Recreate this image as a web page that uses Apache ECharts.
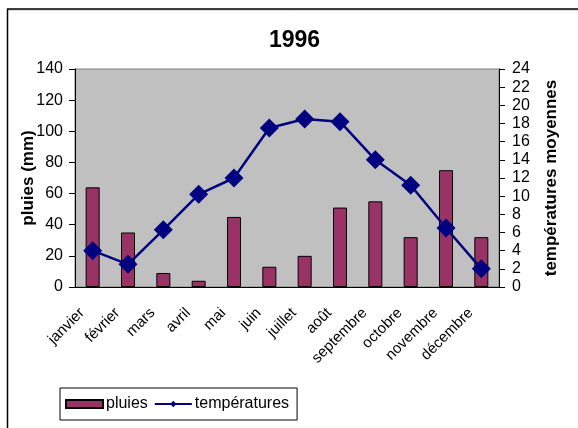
<!DOCTYPE html>
<html>
<head>
<meta charset="utf-8">
<script src="https://cdn.jsdelivr.net/npm/echarts@6/dist/echarts.min.js"></script>
<style>
  html, body { margin: 0; padding: 0; background: #fff; }
  #chart { width: 578px; height: 428px; }
</style>
</head>
<body>
<div id="chart"></div>
<script>
const months = ['janvier', 'février', 'mars', 'avril', 'mai', 'juin', 'juillet', 'août', 'septembre', 'octobre', 'novembre', 'décembre'];
const pluies = [64, 35, 9, 4, 45, 13, 20, 51, 55, 32, 75, 32];
const temperatures = [4, 2.5, 6.3, 10.2, 12, 17.5, 18.5, 18.2, 14, 11.2, 6.5, 2];

const FONT = "'Liberation Sans', Arial, sans-serif";

const chart = echarts.init(document.getElementById('chart'));
chart.setOption({
  animation: false,
  textStyle: { fontFamily: FONT, color: '#000' },
  title: {
    text: '1996',
    left: 269,
    top: 29,
    padding: 0,
    textStyle: { fontFamily: FONT, fontSize: 23, fontWeight: 'bold', color: '#000' },
  },
  graphic: [
    { type: 'line', shape: { x1: 7, y1: 10, x2: 578, y2: 10 }, style: { stroke: '#bbb', lineWidth: 1 } },
    { type: 'line', shape: { x1: 7, y1: 9, x2: 578, y2: 9 }, style: { stroke: '#000', lineWidth: 1.5 } },
    { type: 'line', shape: { x1: 7.5, y1: 9, x2: 7.5, y2: 428 }, style: { stroke: '#000', lineWidth: 1.5 } },
  ],
  legend: {
    left: 60,
    top: 388,
    padding: [8, 8, 8, 5],
    itemGap: 6,
    itemWidth: 37,
    itemHeight: 8,
    borderColor: '#000',
    borderWidth: 1,
    textStyle: { fontFamily: FONT, fontSize: 16, color: '#000', padding: [0, 0, 0, -2] },
    data: [
      { name: 'pluies', icon: 'rect' },
      { name: 'températures' },
    ],
  },
  grid: {
    left: 75, right: 79, top: 69, bottom: 141,
    show: true,
    backgroundColor: '#c0c0c0',
    borderColor: '#808080',
    borderWidth: 1,
  },
  xAxis: {
    type: 'category',
    data: months,
    boundaryGap: true,
    axisLine: { lineStyle: { color: '#000', width: 1 } },
    axisTick: { alignWithLabel: false, length: 6, lineStyle: { color: '#000' } },
    axisLabel: {
      interval: 0, rotate: 45, margin: 13, fontSize: 15, fontFamily: FONT, color: '#000',
      padding: [0, 15, 0, 0],
    },
  },
  yAxis: [
    {
      type: 'value',
      min: 0, max: 140, interval: 20,
      position: 'left',
      name: 'pluies (mm)',
      nameLocation: 'middle',
      nameRotate: 90,
      nameGap: 38,
      nameMoveOverlap: false,
      nameTextStyle: { fontFamily: FONT, fontSize: 17, fontWeight: 'bold', color: '#000' },
      axisLine: { show: true, lineStyle: { color: '#000' } },
      axisTick: { show: true, length: 6, lineStyle: { color: '#000' } },
      axisLabel: { margin: 12, fontSize: 16, fontFamily: FONT, color: '#000' },
      splitLine: { show: false },
    },
    {
      type: 'value',
      min: 0, max: 24, interval: 2,
      position: 'right',
      name: 'températures moyennes',
      nameLocation: 'middle',
      nameRotate: 90,
      nameGap: 44,
      nameMoveOverlap: false,
      nameTextStyle: { fontFamily: FONT, fontSize: 17, fontWeight: 'bold', color: '#000' },
      axisLine: { show: true, lineStyle: { color: '#000' } },
      axisTick: { show: true, length: 6, lineStyle: { color: '#000' } },
      axisLabel: { margin: 13, fontSize: 16, fontFamily: FONT, color: '#000' },
      splitLine: { show: false },
    },
  ],
  series: [
    {
      name: 'pluies',
      type: 'bar',
      yAxisIndex: 0,
      data: pluies,
      barWidth: 14,
      itemStyle: { color: '#993366', borderColor: '#000', borderWidth: 1 },
    },
    {
      name: 'températures',
      type: 'line',
      yAxisIndex: 1,
      data: temperatures,
      symbol: 'diamond',
      symbolSize: 19,
      lineStyle: { color: '#000080', width: 2.5 },
      itemStyle: { color: '#000080' },
    },
  ],
});
</script>
</body>
</html>
